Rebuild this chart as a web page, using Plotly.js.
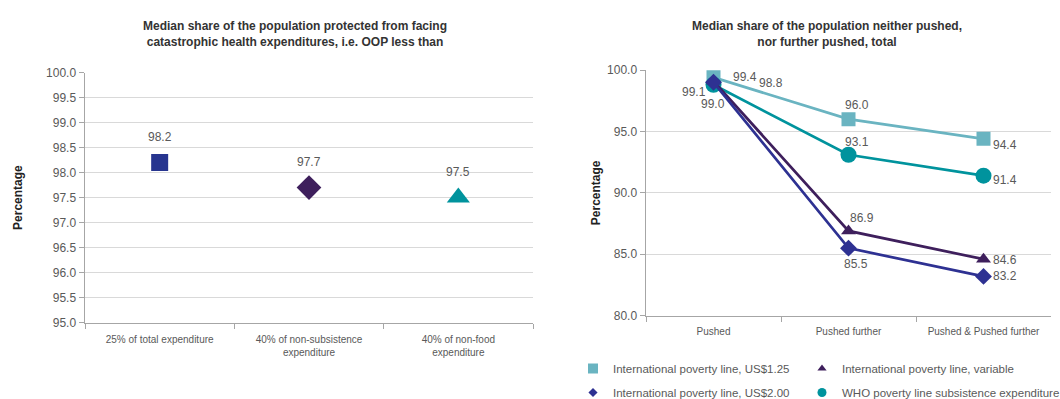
<!DOCTYPE html>
<html>
<head>
<meta charset="utf-8">
<script src="https://cdn.plot.ly/plotly-3.0.1.min.js"></script>
<style>html,body{margin:0;padding:0;background:#fff;}#chart{width:1060px;height:399px;}</style>
</head>
<body>
<div id="chart"></div>
<script>
// ---- Left chart data ----
const leftCategories = ["25% of total expenditure", "40% of non-subsistence<br>expenditure", "40% of non-food<br>expenditure"];
const leftValues = [98.2, 97.7, 97.5];
const leftSymbols = ["square", "diamond", "triangle-up"];
const leftColors = ["#27358f", "#3e1f5c", "#00939d"];
const leftSizes = [17, 19, 20];

// ---- Right chart data ----
const rightCategories = ["Pushed", "Pushed further", "Pushed & Pushed further"];
const seriesNames = ["International poverty line, US$1.25", "International poverty line, variable",
                     "International poverty line, US$2.00", "WHO poverty line subsistence expenditure"];
const usd125 = [99.4, 96.0, 94.4];
const variableLine = [99.1, 86.9, 84.6];
const usd200 = [99.0, 85.5, 83.2];
const whoLine = [98.8, 93.1, 91.4];

// styles (legend slot: column, row)
const rightSeries = [
  {name: seriesNames[0], y: usd125, color: "#6ab4c1", symbol: "square", size: 14, legend: "legend", lsize: 10,
   shifts: [[31, 0], [8, 14], [21, -6]]},
  {name: seriesNames[1], y: variableLine, color: "#3e1f5c", symbol: "triangle-up", size: 13, legend: "legend2", lsize: 8,
   shifts: [[-20, -11], [13, 13], [21, -1]]},
  {name: seriesNames[2], y: usd200, color: "#2e3192", symbol: "diamond", size: 13, legend: "legend3", lsize: 7,
   shifts: [[-1, -22], [7, -16], [21, 0]]},
  {name: seriesNames[3], y: whoLine, color: "#00939d", symbol: "circle", size: 16, legend: "legend4", lsize: 9,
   shifts: [[57, 2], [8, 13], [21, -4]]}
];
const drawOrder = [0, 3, 1, 2];

const FONT = "Liberation Sans, Arial, Helvetica, sans-serif";
const GRAY = "#595959";

const traces = [];
const annotations = [];

// left markers
leftCategories.forEach((c, i) => {
  traces.push({
    x: [c], y: [leftValues[i]], xaxis: "x", yaxis: "y", type: "scatter", mode: "markers",
    marker: {symbol: leftSymbols[i], color: leftColors[i], size: leftSizes[i]},
    showlegend: false, hoverinfo: "skip"
  });
  annotations.push({
    x: c, y: leftValues[i], xref: "x", yref: "y", text: leftValues[i].toFixed(1),
    showarrow: false, yshift: 26, font: {family: FONT, size: 12, color: GRAY}
  });
});

// right lines
drawOrder.forEach(k => {
  const s = rightSeries[k];
  traces.push({
    x: rightCategories, y: s.y, xaxis: "x2", yaxis: "y2", type: "scatter", mode: "lines+markers",
    line: {color: s.color, width: 2.7},
    marker: {symbol: s.symbol, color: s.color, size: s.size},
    showlegend: false, hoverinfo: "skip"
  });
  s.y.forEach((v, j) => {
    annotations.push({
      x: rightCategories[j], y: v, xref: "x2", yref: "y2", text: v.toFixed(1),
      showarrow: false, xshift: s.shifts[j][0], yshift: s.shifts[j][1],
      font: {family: FONT, size: 12, color: GRAY}
    });
  });
});

// legend entries (marker only)
rightSeries.forEach(s => {
  traces.push({
    x: [null], y: [null], xaxis: "x2", yaxis: "y2", type: "scatter", mode: "markers",
    name: s.name, legend: s.legend,
    marker: {symbol: s.symbol, color: s.color, size: s.lsize},
    showlegend: true, hoverinfo: "skip"
  });
});

// titles
annotations.push({
  xref: "paper", yref: "paper", x: 295 / 1060, y: 1 - 34 / 399, xanchor: "center", yanchor: "middle",
  text: "<b>Median share of the population protected from facing<br>catastrophic health expenditures, i.e. OOP less than</b>",
  showarrow: false, font: {family: FONT, size: 12, color: "#333333"}
});
annotations.push({
  xref: "paper", yref: "paper", x: 827 / 1060, y: 1 - 34 / 399, xanchor: "center", yanchor: "middle",
  text: "<b>Median share of the population neither pushed,<br>nor further pushed, total</b>",
  showarrow: false, font: {family: FONT, size: 12, color: "#333333"}
});

const yAxisCommon = {
  showgrid: true, gridcolor: "#d9d9d9", gridwidth: 1,
  showline: true, linecolor: "#a6a6a6", linewidth: 1.5,
  ticks: "outside", ticklen: 5, tickcolor: "#a6a6a6",
  tickformat: ".1f", zeroline: false, automargin: false,
  tickfont: {family: FONT, size: 12, color: GRAY},
  title: {text: "<b>Percentage</b>", font: {family: FONT, size: 12, color: "#222222"}}
};
const xAxisCommon = {
  type: "category", showgrid: false, showline: true, linecolor: "#a6a6a6", linewidth: 1.5,
  ticks: "outside", ticklen: 5, tickcolor: "#a6a6a6", tickson: "boundaries", tickangle: 0,
  automargin: false,
  range: [-0.5, 2.5], tickfont: {family: FONT, size: 10, color: GRAY}, zeroline: false
};

const legendCommon = {
  orientation: "v", xanchor: "left", yanchor: "top",
  font: {family: FONT, size: 11.5, color: GRAY},
  bgcolor: "rgba(0,0,0,0)", traceorder: "normal"
};
const col1 = 573 / 1060, col2 = 802 / 1060, row1 = 1 - 354 / 399, row2 = 1 - 378 / 399;

const layout = {
  width: 1060, height: 399,
  margin: {l: 0, r: 0, t: 0, b: 0, autoexpand: false},
  paper_bgcolor: "#ffffff", plot_bgcolor: "#ffffff",
  font: {family: FONT, color: GRAY},
  xaxis: Object.assign({}, xAxisCommon, {domain: [85 / 1060, 533 / 1060], anchor: "y", ticklabelstandoff: 7}),
  yaxis: Object.assign({}, yAxisCommon, {domain: [1 - 322.6 / 399, 1 - 72.6 / 399], anchor: "x",
    range: [95, 100], dtick: 0.5, title: Object.assign({}, yAxisCommon.title, {standoff: 21})}),
  xaxis2: Object.assign({}, xAxisCommon, {domain: [646 / 1060, 1051 / 1060], anchor: "y2", ticklabelstandoff: 6}),
  yaxis2: Object.assign({}, yAxisCommon, {domain: [1 - 315.7 / 399, 1 - 70 / 399], anchor: "x2",
    range: [80, 100], dtick: 5, title: Object.assign({}, yAxisCommon.title, {standoff: 4})}),
  legend: Object.assign({}, legendCommon, {x: col1, y: row1}),
  legend2: Object.assign({}, legendCommon, {x: col2, y: row1}),
  legend3: Object.assign({}, legendCommon, {x: col1, y: row2}),
  legend4: Object.assign({}, legendCommon, {x: col2, y: row2}),
  annotations: annotations,
  hovermode: false
};

Plotly.newPlot("chart", traces, layout, {displayModeBar: false, staticPlot: true});
</script>
</body>
</html>
